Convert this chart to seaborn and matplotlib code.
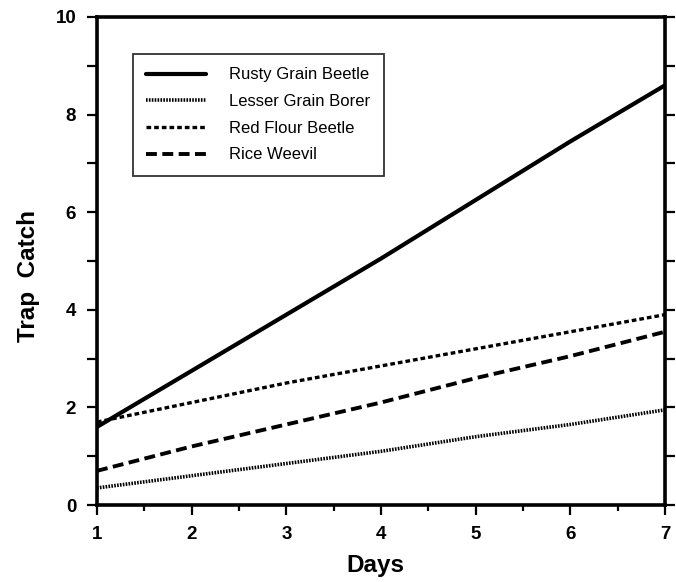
import matplotlib
matplotlib.use("Agg")
import matplotlib.pyplot as plt
import matplotlib.ticker as mticker
from matplotlib.lines import Line2D
import pandas as pd
import seaborn as sns

# data
days = [1, 2, 3, 4, 5, 6, 7]
rusty_grain_beetle = [1.6, 2.75, 3.9, 5.05, 6.25, 7.45, 8.6]
lesser_grain_borer = [0.35, 0.6, 0.85, 1.1, 1.4, 1.65, 1.95]
red_flour_beetle = [1.7, 2.1, 2.5, 2.85, 3.2, 3.55, 3.9]
rice_weevil = [0.7, 1.2, 1.65, 2.1, 2.6, 3.05, 3.55]
species = ["Rusty Grain Beetle", "Lesser Grain Borer", "Red Flour Beetle", "Rice Weevil"]

series = [rusty_grain_beetle, lesser_grain_borer, red_flour_beetle, rice_weevil]
df = pd.DataFrame(
    [(d, v, s) for s, vals in zip(species, series) for d, v in zip(days, vals)],
    columns=["Days", "Trap Catch", "Species"],
)

sns.set_style("ticks")
plt.rcParams["font.family"] = ["Liberation Sans", "DejaVu Sans"]
plt.rcParams["text.color"] = "black"
plt.rcParams["axes.labelcolor"] = "black"

dash_map = {
    "Rusty Grain Beetle": "",
    "Lesser Grain Borer": (0.45, 0.35),
    "Red Flour Beetle": (1.4, 0.9),
    "Rice Weevil": (2.8, 1.4),
}
width_map = {"Rusty Grain Beetle": 3.0, "Lesser Grain Borer": 2.6,
             "Red Flour Beetle": 2.4, "Rice Weevil": 2.8}

fig = plt.figure(figsize=(6.76, 5.82), dpi=100)
ax = fig.add_axes([0.1435, 0.1323, 0.8402, 0.8385])

sns.lineplot(data=df, x="Days", y="Trap Catch", style="Species",
             style_order=species, dashes=dash_map, color="black",
             linewidth=2.6, legend=False, ax=ax)
for line, s in zip(ax.lines, species):
    line.set_linewidth(width_map[s])

ax.set_xlim(1, 7)
ax.set_ylim(0, 10)
ax.set_xticks(days)
ax.xaxis.set_minor_locator(mticker.MultipleLocator(0.5))
ax.set_yticks(range(0, 11))
ax.set_yticklabels([str(i) if i % 2 == 0 else "" for i in range(0, 11)])

for sp in ax.spines.values():
    sp.set_visible(True)
    sp.set_linewidth(2.6)
    sp.set_color("black")

ax.tick_params(axis="both", which="major", direction="out", width=1.6,
               length=7, colors="black", labelcolor="black")
ax.tick_params(axis="x", which="minor", direction="out", width=1.6,
               length=4, colors="black")
ax.tick_params(axis="both", labelsize=13.5, pad=8)
ax.tick_params(axis="y", right=True, which="major")
for t in ax.get_xticklabels() + ax.get_yticklabels():
    t.set_fontweight("bold")

ax.set_xlabel("Days", fontsize=17.5, fontweight="bold")
ax.set_ylabel("Trap  Catch", fontsize=17.5, fontweight="bold")
ax.xaxis.set_label_coords(0.49, -0.1)
ax.yaxis.set_label_coords(-0.1, 0.47)

handles = [Line2D([0], [0], color="black", lw=width_map[s],
                  dashes=dash_map[s] if dash_map[s] else (None, None))
           for s in species]
for h, s in zip(handles, species):
    if dash_map[s] == "":
        h.set_linestyle("-")
leg = ax.legend(handles, species, loc="upper left",
                bbox_to_anchor=(0.063, 0.924), frameon=True, fancybox=False,
                fontsize=12, handlelength=3.6, handletextpad=1.4,
                labelspacing=0.7, borderpad=0.8, borderaxespad=0)
leg.get_frame().set_edgecolor("black")
leg.get_frame().set_linewidth(1.3)

fig.savefig("out.png", dpi=100, facecolor="white")
